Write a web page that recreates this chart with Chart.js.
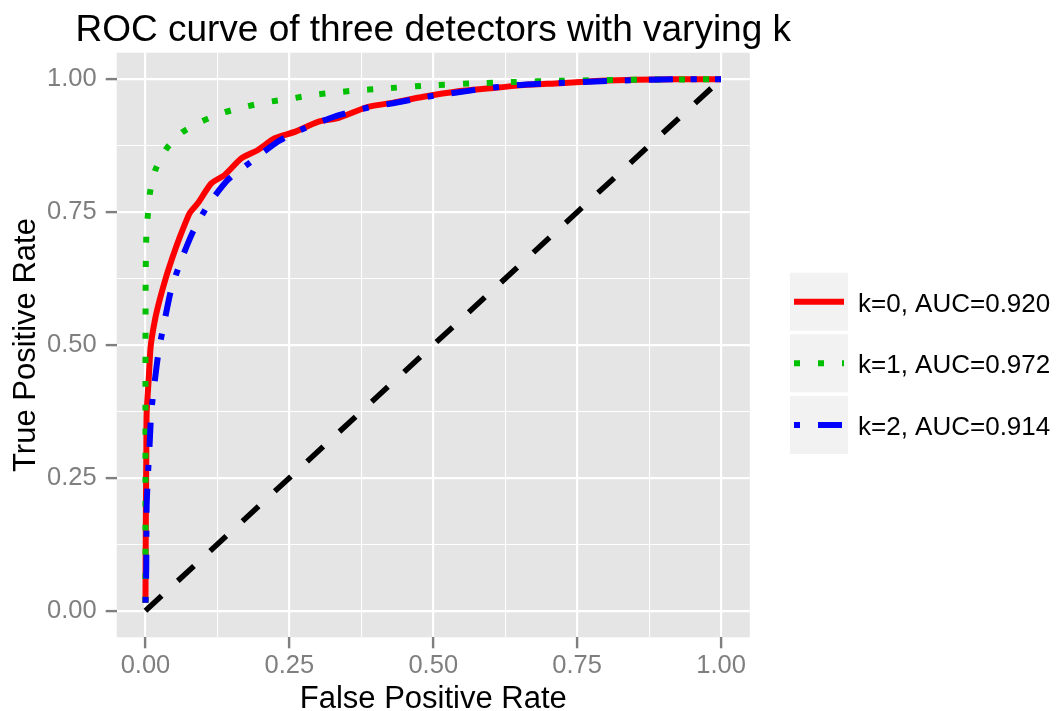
<!DOCTYPE html>
<html>
<head>
<meta charset="utf-8">
<script src="https://cdn.jsdelivr.net/npm/chart.js@4/dist/chart.umd.min.js"></script>
<style>
  html, body { margin: 0; padding: 0; background: #ffffff; }
  #wrap { width: 1057px; height: 711px; position: relative; }
</style>
</head>
<body>
<div id="wrap"><canvas id="c" width="1057" height="711"></canvas></div>
<script>
// ---- Data ----
const chartTitle = 'ROC curve of three detectors with varying k';
const xAxisTitle = 'False Positive Rate';
const yAxisTitle = 'True Positive Rate';
const seriesLabels = ['k=0, AUC=0.920', 'k=1, AUC=0.972', 'k=2, AUC=0.914'];

const tickValues = [0, 0.25, 0.5, 0.75, 1];
const tickLabels = ['0.00', '0.25', '0.50', '0.75', '1.00'];
const minorTickValues = [0.125, 0.375, 0.625, 0.875];

// k=0 (red, solid)
const k0Fpr = [0, 0.0003, 0.0008, 0.0015, 0.002, 0.0055, 0.009, 0.017, 0.0247, 0.035, 0.047, 0.0575, 0.0768, 0.0912, 0.1143, 0.1376, 0.1665, 0.1955, 0.2245, 0.2593, 0.2997, 0.3345, 0.3866, 0.4306, 0.4827, 0.5407, 0.5986, 0.6565, 0.7202, 0.7898, 0.85, 0.92, 1.0];
const k0Tpr = [0.015, 0.1, 0.2, 0.3, 0.371, 0.434, 0.497, 0.55, 0.585, 0.625, 0.665, 0.697, 0.748, 0.767, 0.804, 0.820, 0.851, 0.867, 0.889, 0.901, 0.920, 0.927, 0.948, 0.956, 0.967, 0.977, 0.983, 0.989, 0.9925, 0.997, 0.999, 1.0, 1.0];

// k=1 (green, dotted)
const k1Fpr = [0, 0, 0, 0.0003, 0.0014, 0.0043, 0.0083, 0.0177, 0.0361, 0.0634, 0.0982, 0.1347, 0.1724, 0.2111, 0.2499, 0.2881, 0.3275, 0.367, 0.4075, 0.4857, 0.5639, 0.642, 0.72, 0.839, 1.0];
const k1Tpr = [0.015, 0.2, 0.4, 0.622, 0.704, 0.748, 0.790, 0.831, 0.869, 0.900, 0.921, 0.937, 0.948, 0.957, 0.963, 0.970, 0.975, 0.979, 0.982, 0.988, 0.992, 0.995, 0.997, 0.999, 1.0];

// k=2 (blue, dot-dash)
const k2Fpr = [0, 0.0014, 0.002, 0.0043, 0.0073, 0.010, 0.016, 0.023, 0.0334, 0.0448, 0.0622, 0.0825, 0.1086, 0.1434, 0.1838, 0.2302, 0.2766, 0.3288, 0.375, 0.43, 0.4886, 0.593, 0.645, 0.703, 0.812, 0.917, 1.0];
const k2Tpr = [0.015, 0.083, 0.196, 0.255, 0.315, 0.373, 0.431, 0.489, 0.547, 0.605, 0.660, 0.713, 0.763, 0.811, 0.845, 0.883, 0.908, 0.930, 0.944, 0.955, 0.967, 0.983, 0.989, 0.9925, 0.997, 1.0, 1.0];

// chance diagonal
const chanceFpr = [0, 1];
const chanceTpr = [0, 1];

// ---- Build chart ----
const toPts = (xs, ys) => xs.map((x, i) => ({ x: x, y: ys[i] }));
const LW = 6;
const FONT = '"Liberation Sans", Arial, sans-serif';

const datasets = [
  { label: 'chance', data: toPts(chanceFpr, chanceTpr), borderColor: '#000000', borderWidth: 5.5,
    borderDash: [22, 22], order: 0, tension: 0 },
  { label: seriesLabels[2], data: toPts(k2Fpr, k2Tpr), borderColor: '#0000ff', borderWidth: LW,
    borderDash: [LW, 3 * LW, 4 * LW, 3 * LW], order: 1, tension: 0.2 },
  { label: seriesLabels[1], data: toPts(k1Fpr, k1Tpr), borderColor: '#00c000', borderWidth: LW,
    borderDash: [LW, 3 * LW], order: 2, tension: 0.2 },
  { label: seriesLabels[0], data: toPts(k0Fpr, k0Tpr), borderColor: '#ff0000', borderWidth: LW,
    borderDash: [], order: 3, tension: 0.2 }
];
datasets.forEach(d => {
  d.showLine = true; d.pointRadius = 0; d.pointHoverRadius = 0; d.fill = false;
  d.borderCapStyle = 'butt'; d.borderJoinStyle = 'round';
});

const PANEL = { left: 116.7, right: 749.8, top: 52.7, bottom: 637.3 };
const isMajor = v => tickValues.some(t => Math.abs(t - v) < 1e-9);

const gridOpts = {
  color: '#ffffff',
  lineWidth: ctx => (ctx.tick && isMajor(ctx.tick.value)) ? 2.2 : 1.1,
  drawTicks: true,
  tickLength: 11,
  tickWidth: 2.4,
  tickColor: ctx => (ctx.tick && isMajor(ctx.tick.value)) ? '#7f7f7f' : 'rgba(0,0,0,0)'
};
const allTicks = () => tickValues.concat(minorTickValues).sort((a, b) => a - b).map(v => ({ value: v }));
const tickCb = v => { const i = tickValues.findIndex(t => Math.abs(t - v) < 1e-9); return i >= 0 ? tickLabels[i] : ''; };

const bgPlugin = {
  id: 'panelBg',
  beforeDraw(chart) {
    const { ctx, chartArea: a } = chart;
    ctx.save();
    ctx.fillStyle = '#ffffff';
    ctx.fillRect(0, 0, chart.width, chart.height);
    ctx.fillStyle = '#e5e5e5';
    ctx.fillRect(a.left, a.top, a.right - a.left, a.bottom - a.top);
    ctx.restore();
  }
};

const textPlugin = {
  id: 'ggText',
  afterDraw(chart) {
    const { ctx, chartArea: a } = chart;
    ctx.save();
    // title
    ctx.fillStyle = '#000000';
    ctx.font = '37px ' + FONT;
    ctx.textAlign = 'center';
    ctx.textBaseline = 'alphabetic';
    ctx.fillText(chartTitle, (a.left + a.right) / 2, 41);
    // axis titles
    ctx.font = '31px ' + FONT;
    ctx.fillText(xAxisTitle, (a.left + a.right) / 2, 708);
    ctx.save();
    ctx.translate(35, (a.top + a.bottom) / 2);
    ctx.rotate(-Math.PI / 2);
    ctx.fillText(yAxisTitle, 0, 0);
    ctx.restore();
    // legend
    const order = [3, 2, 1]; // dataset indexes for k=0, k=1, k=2
    const rowTops = [272.7, 334.3, 396];
    order.forEach((di, r) => {
      const ds = chart.data.datasets[di];
      const top = rowTops[r];
      ctx.fillStyle = '#f2f2f2';
      ctx.fillRect(790, top, 58, 58);
      const cy = top + 29;
      ctx.strokeStyle = ds.borderColor;
      ctx.lineWidth = ds.borderWidth;
      ctx.lineCap = 'butt';
      ctx.setLineDash(ds.borderDash || []);
      ctx.beginPath();
      ctx.moveTo(794, cy);
      ctx.lineTo(844, cy);
      ctx.stroke();
      ctx.setLineDash([]);
      ctx.fillStyle = '#000000';
      ctx.font = '26px ' + FONT;
      ctx.textAlign = 'left';
      ctx.fillText(ds.label, 858, cy + 10);
    });
    ctx.restore();
  }
};

new Chart(document.getElementById('c'), {
  type: 'scatter',
  data: { datasets: datasets },
  options: {
    responsive: false,
    animation: false,
    devicePixelRatio: 1,
    layout: { padding: { left: 0, top: PANEL.top, right: 1057 - PANEL.right, bottom: 0 } },
    plugins: { legend: { display: false }, title: { display: false }, tooltip: { enabled: false } },
    scales: {
      x: {
        type: 'linear', min: -0.05, max: 1.05,
        afterBuildTicks: s => { s.ticks = allTicks(); },
        afterFit: s => { s.height = 711 - PANEL.bottom; },
        border: { display: false },
        grid: gridOpts,
        ticks: { callback: tickCb, autoSkip: false, maxRotation: 0, minRotation: 0, padding: 2,
                 color: '#7f7f7f', font: { family: FONT, size: 25.5 } }
      },
      y: {
        type: 'linear', min: -0.05, max: 1.05,
        afterBuildTicks: s => { s.ticks = allTicks(); },
        afterFit: s => { s.width = PANEL.left; },
        border: { display: false },
        grid: gridOpts,
        ticks: { callback: tickCb, autoSkip: false, padding: 9,
                 color: '#7f7f7f', font: { family: FONT, size: 25.5 } }
      }
    }
  },
  plugins: [bgPlugin, textPlugin]
});
</script>
</body>
</html>
